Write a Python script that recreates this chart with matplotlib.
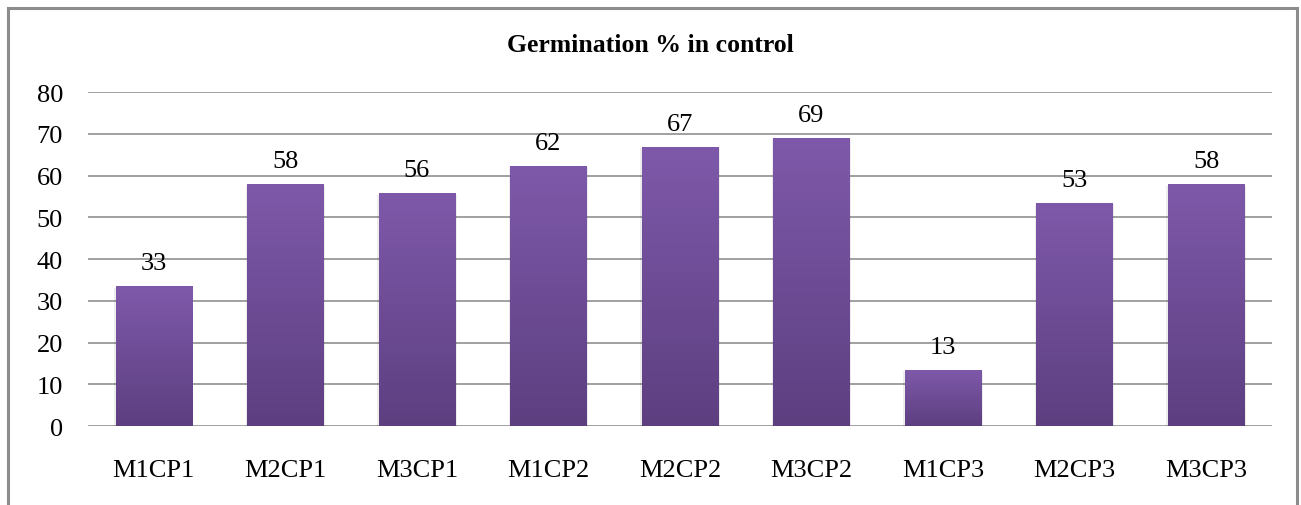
import numpy as np
import matplotlib.pyplot as plt
from matplotlib.patches import Rectangle
from matplotlib.colors import LinearSegmentedColormap

categories = ['M1CP1', 'M2CP1', 'M3CP1', 'M1CP2', 'M2CP2', 'M3CP2', 'M1CP3', 'M2CP3', 'M3CP3']
germination = [33.3, 57.8, 55.6, 62.2, 66.7, 68.9, 13.3, 53.3, 57.8]

plt.rcParams['font.family'] = ['Liberation Serif', 'DejaVu Serif']

fig = plt.figure(figsize=(13.01, 5.06), dpi=100)
ax = fig.add_axes([0.0676, 0.1561, 0.9101, 0.6601])

# outer frame of the chart
fig.patches.append(Rectangle((8 / 1301, -0.05), 1289 / 1301, 1.05 - 9 / 506,
                             transform=fig.transFigure, fill=False,
                             edgecolor='#8c8c8c', linewidth=2.2))

ax.set_xlim(-0.5, len(categories) - 0.5)
ax.set_ylim(0, 80)
ax.set_yticks(range(0, 81, 10))
ax.grid(axis='y', color='#a0a0a0', linewidth=1.4)
ax.set_axisbelow(True)
for s in ax.spines.values():
    s.set_visible(False)
ax.tick_params(length=0, labelsize=19)
ax.tick_params(axis='y', pad=18)
ax.tick_params(axis='x', pad=24)

cmap = LinearSegmentedColormap.from_list('purp', ['#5d3f80', '#7e59aa'])
grad = np.linspace(0, 1, 256).reshape(-1, 1)

bars = ax.bar(range(len(categories)), germination, width=0.58,
              facecolor='none', edgecolor='none', zorder=3)
for b, v in zip(bars, germination):
    x0, w, h = b.get_x(), b.get_width(), b.get_height()
    # soft shadow
    ax.add_patch(Rectangle((x0 - 0.012, 0), w + 0.024, h - 0.2, facecolor='#000000',
                           alpha=0.07, edgecolor='none', zorder=2))
    ax.imshow(grad, cmap=cmap, aspect='auto', origin='lower',
              extent=(x0, x0 + w, 0, h), zorder=3)
    ax.text(x0 + w / 2, h + 3.0, f'{v:.0f}', ha='center', va='bottom',
            fontsize=19)

ax.set_xlim(-0.5, len(categories) - 0.5)
ax.set_ylim(0, 80)
ax.set_xticks(range(len(categories)))
ax.set_xticklabels(categories)

fig.text(0.5, 1 - 46 / 506, 'Germination % in control', ha='center', va='center',
         fontsize=18.5, fontweight='bold')

fig.savefig('out.png', dpi=100)
